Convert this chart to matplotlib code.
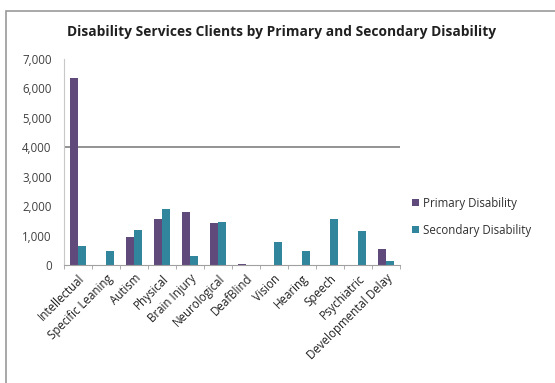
import numpy as np
import matplotlib.pyplot as plt
from matplotlib.patches import Rectangle

categories = ["Intellectual", "Specific Leaning", "Autism", "Physical", "Brain Injury",
              "Neurological", "DeafBlind", "Vision", "Hearing", "Speech",
              "Psychiatric", "Developmental Delay"]
primary = [6340, 0, 950, 1560, 1790, 1440, 50, 0, 0, 0, 0, 550]
secondary = [650, 480, 1180, 1910, 300, 1470, 10, 780, 480, 1550, 1170, 130]
yticks = [0, 1000, 2000, 3000, 4000, 5000, 6000, 7000]

purple = "#604a7b"
teal = "#31859c"

plt.rcParams["font.family"] = ["Open Sans", "DejaVu Sans"]

fig = plt.figure(figsize=(5.55, 3.83), dpi=100)
ax = fig.add_axes([64 / 555, (383 - 265) / 383, 336 / 555, 206 / 383])

x = np.arange(len(categories))
w = 0.29
ax.bar(x - w / 2, primary, w, color=purple, label="Primary Disability")
ax.bar(x + w / 2, secondary, w, color=teal, label="Secondary Disability")

ax.axhline(4000, color="#808080", lw=1.2, zorder=0)

ax.set_xlim(-0.5, len(categories) - 0.5)
ax.set_ylim(0, 7000)
ax.set_yticks(yticks)
ax.set_yticklabels([f"{v:,}" for v in yticks], fontsize=8.3, color="#404040")
ax.tick_params(axis="y", length=0, pad=9)

ax.set_xticks(x)
ax.set_xticklabels(categories, rotation=45, ha="right", rotation_mode="anchor",
                   fontsize=8.3, color="#202020")
ax.set_xticks(np.arange(-0.5, len(categories)), minor=True)
ax.tick_params(axis="x", which="major", length=0, pad=5)
ax.tick_params(axis="x", which="minor", length=3, color="#a0a0a0")

for s in ["top", "right"]:
    ax.spines[s].set_visible(False)
ax.spines["left"].set_color("#c8c8c8")
ax.spines["bottom"].set_color("#a0a0a0")

fig.text(0.508, 1 - 32 / 383, "Disability Services Clients by Primary and Secondary Disability",
         ha="center", va="center", fontsize=9.9, fontweight="bold", color="#202020")

ax.legend(loc="center left", bbox_to_anchor=(1.005, 0.235), frameon=False,
          fontsize=8.3, handlelength=0.6, handleheight=0.6, handletextpad=0.35,
          labelspacing=1.2, labelcolor="#303030")

# chart frame
fig.patches.append(Rectangle((6 / 555, -0.1), 1.2, 1.1 - 11 / 383,
                             transform=fig.transFigure, fill=False,
                             edgecolor="#9a9a9a", lw=1.2))

fig.savefig("out.png", dpi=100)
